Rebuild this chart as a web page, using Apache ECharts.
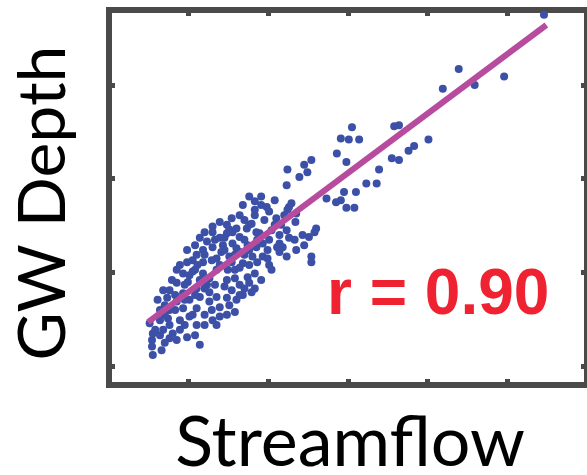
<!DOCTYPE html>
<html>
<head>
<meta charset="utf-8">
<script src="https://cdn.jsdelivr.net/npm/echarts@6/dist/echarts.min.js"></script>
<style>
  html, body { margin: 0; padding: 0; background: #fff; }
  #chart { width: 587px; height: 475px; }
</style>
</head>
<body>
<div id="chart"></div>
<script>
// Streamflow vs groundwater depth observations
const streamflow = [
  54.6,43.9,41.9,45.9,49.6,36.4,35.8,40.1,38.3,37.6,
  35.5,36.4,33.9,30.5,29.1,30.1,31.4,28.6,29.8,32.3,
  33.6,29.5,31.0,29.1,29.8,30.8,27.3,28.5,25.4,24.5,
  22.4,23.9,24.9,22.3,17.6,19.1,16.8,19.8,18.3,22.9,
  22.4,21.0,23.5,17.6,18.5,26.0,24.3,22.3,22.6,25.1,
  21.1,22.3,25.4,19.3,18.0,14.8,13.0,15.1,17.9,16.4,
  13.0,14.8,18.9,19.3,20.1,21.4,25.8,11.8,13.0,14.3,
  15.5,16.4,10.5,11.8,13.5,15.1,16.8,18.6,21.4,25.4,
  9.3,10.5,11.8,13.5,14.8,12.6,17.4,18.3,17.6,18.3,
  17.9,8.5,7.6,9.3,11.0,7.3,8.5,10.1,11.4,12.6,
  13.5,14.8,15.1,13.9,12.6,6.4,7.6,9.3,11.0,10.5,
  6.4,7.4,8.9,10.1,11.0,13.0,13.9,14.8,13.5,5.1,
  5.5,6.8,8.0,8.9,9.8,8.5,7.0,5.4,5.4,5.5,
  11.4,21.8,22.6,15.5,17.3,13.9,16.0,17.4,18.5,11.4,
  9.9,15.8,16.4,15.4,16.0,11.0,8.5,16.8,12.3,9.8,
  6.1,6.8,7.9,8.9,9.8,10.8,11.4,12.3,14.1,15.4,
  17.0,19.9,20.4,21.6,19.5,16.4,15.4,13.9,12.0,10.8,
  12.0,9.5,7.6,6.4,6.6,14.5,16.4,19.1,20.1,17.0,
  18.3,20.8,23.4,24.5,23.5,12.0,15.8,
  7.0,8.3,9.5,10.1,11.1,12.0,12.9,13.9,14.5,15.8,
  13.3,14.5,16.0,17.0,18.3,19.1,20.1,20.8,18.6,17.6,
  19.9,20.4,15.8,17.0,13.3,10.8,9.5,8.3,7.0,5.8,
  7.6,10.8,12.0,12.9,16.4,14.9,17.6,22.0,23.3,21.4
];
const gwDepth = [
  39.5,33.7,31.6,32.0,32.9,27.7,27.6,26.2,25.5,25.0,
  24.2,24.0,23.0,27.5,26.3,26.2,26.2,24.7,23.8,21.5,
  21.5,20.6,20.6,19.7,18.9,18.9,19.9,19.5,24.0,23.5,
  23.0,22.2,22.7,21.3,20.1,20.1,19.2,19.0,19.6,19.4,
  18.7,17.8,18.3,17.1,16.3,16.7,16.0,16.5,15.7,15.8,
  14.7,13.7,13.7,13.7,13.7,17.1,16.9,16.6,17.2,15.8,
  16.3,16.2,16.2,15.1,15.5,16.0,16.3,14.4,14.7,14.9,
  15.1,14.2,13.3,13.1,13.5,13.7,13.0,13.1,14.2,13.1,
  11.9,12.1,11.9,12.3,11.2,11.4,11.5,11.9,10.9,10.3,
  9.9,10.9,10.1,9.8,10.3,9.3,8.9,9.1,9.4,9.9,
  9.4,9.3,8.5,8.3,8.9,8.0,8.0,8.2,8.2,7.5,
  6.9,7.1,6.9,7.3,6.4,6.9,7.3,7.5,6.4,6.6,
  5.5,5.9,5.5,5.9,5.1,4.8,4.5,4.8,4.1,3.2,
  4.3,14.7,19.0,16.3,16.7,15.7,14.6,14.9,14.7,11.2,
  11.0,12.3,10.7,10.1,9.1,13.9,12.3,9.6,10.7,13.1,
  9.1,10.1,11.2,12.8,14.4,14.9,15.7,15.3,14.2,13.1,
  13.9,14.4,16.5,17.1,17.6,18.1,17.8,17.4,16.3,12.3,
  10.3,6.4,6.4,5.3,3.7,10.5,12.5,11.2,12.8,15.5,
  18.1,19.7,17.4,14.9,14.4,7.5,7.8,
  8.5,9.6,10.7,11.7,12.8,13.9,13.3,12.8,14.4,13.9,
  15.5,15.7,16.7,17.6,18.7,19.2,18.5,17.1,15.5,14.4,
  13.5,12.3,11.4,10.3,10.7,9.6,9.1,8.0,7.5,5.9,
  5.0,5.3,6.4,8.0,9.6,12.3,12.8,18.1,15.5,15.1
];

// Least-squares fit line end points
const fitX = [4.9, 54.9];
const fitY = [6.7, 38.4];

// Axis tick positions
const xTicks = [10, 20, 30, 40, 50];
const yTicks = [2, 12, 22, 32];

const corrText = 'r = 0.90';
const xName = 'Streamflow';
const yName = 'GW Depth';

const frameColor = '#4a4a4a';

const points = streamflow.map((x, i) => [x, gwDepth[i]]);
const fitData = fitX.map((x, i) => [x, fitY[i]]);

function makeAxis(position, min, max, ticks) {
  return {
    type: 'value', position: position, min: min, max: max,
    axisLine: { show: true, onZero: false, lineStyle: { color: frameColor, width: 6, cap: 'square' } },
    axisTick: { show: true, inside: true, length: 6, customValues: ticks,
                lineStyle: { color: frameColor, width: 5 } },
    axisLabel: { show: false },
    splitLine: { show: false }
  };
}

const chart = echarts.init(document.getElementById('chart'), null, { renderer: 'canvas' });
chart.setOption({
  animation: false,
  backgroundColor: '#ffffff',
  grid: { left: 109, right: -4, top: 10, bottom: 90, containLabel: false },
  xAxis: [makeAxis('bottom', 0, 60, xTicks), makeAxis('top', 0, 60, xTicks)],
  yAxis: [makeAxis('left', 0, 40, yTicks), makeAxis('right', 0, 40, yTicks)],
  graphic: [
    {
      type: 'text', x: 350, y: 443, z: 10,
      style: { text: xName, align: 'center', verticalAlign: 'middle',
               fontFamily: 'Lato', fontSize: 70, fill: '#000' }
    },
    {
      type: 'text', x: 44, y: 203, rotation: Math.PI / 2, z: 10,
      style: { text: yName, align: 'center', verticalAlign: 'middle',
               fontFamily: 'Lato', fontSize: 66, fill: '#000' }
    },
    {
      type: 'text', x: 327, y: 296, z: 10,
      style: { text: corrText, align: 'left', verticalAlign: 'middle',
               fontFamily: 'Liberation Sans', fontWeight: 'bold', fontSize: 64, fill: '#ee2231' }
    }
  ],
  series: [
    {
      type: 'scatter',
      xAxisIndex: 0, yAxisIndex: 0,
      data: points,
      symbol: 'circle',
      symbolSize: 8,
      itemStyle: { color: '#3b50a6', opacity: 1 },
      z: 2
    },
    {
      type: 'line',
      xAxisIndex: 0, yAxisIndex: 0,
      data: fitData,
      symbol: 'none',
      lineStyle: { color: '#b74b9e', width: 6 },
      z: 3
    }
  ]
});
</script>
</body>
</html>
